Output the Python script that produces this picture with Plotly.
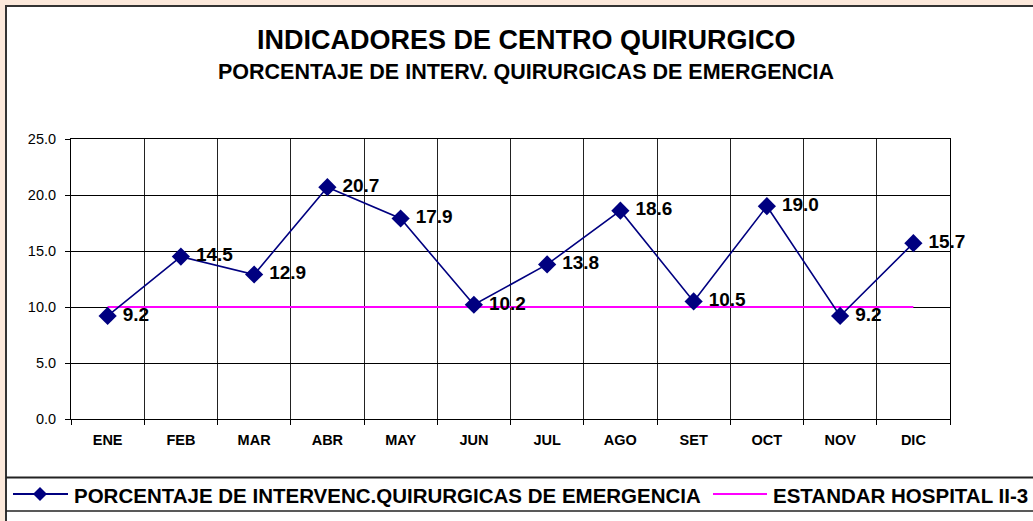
import plotly.graph_objects as go

months = ["ENE", "FEB", "MAR", "ABR", "MAY", "JUN", "JUL", "AGO", "SET", "OCT", "NOV", "DIC"]
porcentaje = [9.2, 14.5, 12.9, 20.7, 17.9, 10.2, 13.8, 18.6, 10.5, 19.0, 9.2, 15.7]
estandar = [10.0] * 12
y_ticks = [0, 5, 10, 15, 20, 25]

title = "INDICADORES DE CENTRO QUIRURGICO"
subtitle = "PORCENTAJE DE INTERV. QUIRURGICAS DE EMERGENCIA"
name1 = "PORCENTAJE DE INTERVENC.QUIRURGICAS DE EMERGENCIA"
name2 = "ESTANDAR HOSPITAL II-3"

W, H = 1033, 521
L, R, T, B = 71, 83, 139, 102
PW, PH = W - L - R, H - T - B
FONT = "Liberation Sans, Arial, sans-serif"
PEACH = "#FCE9DB"


def px(x):
    return (x - L) / PW


def py(y):
    return (H - B - y) / PH


fig = go.Figure()
fig.add_trace(go.Scatter(
    x=months, y=estandar, mode="lines", name=name2,
    line=dict(color="#FF00FF", width=2), hoverinfo="skip"))
fig.add_trace(go.Scatter(
    x=months, y=porcentaje, mode="lines+markers+text", name=name1,
    line=dict(color="#000080", width=1.6),
    marker=dict(symbol="diamond", size=14, color="#000080"),
    text=["\u00a0" + f"{v:.1f}" for v in porcentaje], textposition="middle right",
    textfont=dict(family=FONT, size=19, color="black", weight="bold"),
    cliponaxis=False))

shapes = [
    dict(type="rect", xref="paper", yref="paper", layer="below",
         x0=px(6), x1=px(W + 20), y0=py(H + 20), y1=py(6),
         fillcolor="white", line=dict(color="#333333", width=2)),
    dict(type="line", xref="paper", yref="paper",
         x0=px(6), x1=px(W + 5), y0=py(477.5), y1=py(477.5),
         line=dict(color="#222222", width=2)),
    dict(type="line", xref="paper", yref="paper",
         x0=px(6), x1=px(W + 5), y0=py(511), y1=py(511),
         line=dict(color="#222222", width=1.5)),
    dict(type="line", xref="paper", yref="paper",
         x0=px(13), x1=px(68), y0=py(494), y1=py(494),
         line=dict(color="#000080", width=2)),
    dict(type="path", xref="paper", yref="paper",
         path=f"M {px(40)} {py(487)} L {px(47)} {py(494)} L {px(40)} {py(501)} L {px(33)} {py(494)} Z",
         fillcolor="#000080", line=dict(color="#000080", width=0)),
    dict(type="line", xref="paper", yref="paper",
         x0=px(713), x1=px(767), y0=py(494), y1=py(494),
         line=dict(color="#FF00FF", width=2)),
]

annotations = [
    dict(text=title, xref="paper", yref="paper", x=px(526), y=py(40),
         xanchor="center", yanchor="middle", showarrow=False,
         font=dict(family=FONT, size=27, color="black", weight="bold")),
    dict(text=subtitle, xref="paper", yref="paper", x=px(526), y=py(72),
         xanchor="center", yanchor="middle", showarrow=False,
         font=dict(family=FONT, size=21.5, color="black", weight="bold")),
    dict(text=name1, xref="paper", yref="paper", x=px(72), y=py(495),
         xanchor="left", yanchor="middle", showarrow=False,
         font=dict(family=FONT, size=20.5, color="black", weight="bold")),
    dict(text=name2, xref="paper", yref="paper", x=px(771), y=py(495),
         xanchor="left", yanchor="middle", showarrow=False,
         font=dict(family=FONT, size=20.5, color="black", weight="bold")),
]

fig.update_layout(
    width=W, height=H,
    margin=dict(l=L, r=R, t=T, b=B, pad=0),
    paper_bgcolor=PEACH, plot_bgcolor="white",
    showlegend=False,
    shapes=shapes, annotations=annotations,
    font=dict(family=FONT, color="black"),
)
fig.update_xaxes(
    type="category", categoryorder="array", categoryarray=months,
    range=[-0.5, 11.5], tickson="boundaries",
    showgrid=True, gridcolor="#222222", gridwidth=1,
    showline=True, linecolor="black", linewidth=1, mirror=True,
    ticks="outside", ticklen=5, tickcolor="black", ticklabelstandoff=8,
    tickfont=dict(family=FONT, size=14.5, color="black", weight="bold"),
    fixedrange=True)
fig.update_yaxes(
    range=[0, 25], tickvals=y_ticks, tickformat=".1f",
    showgrid=True, gridcolor="black", gridwidth=1,
    showline=True, linecolor="black", linewidth=1, mirror=True,
    ticks="outside", ticklen=5, tickcolor="black", ticklabelstandoff=6,
    tickfont=dict(family=FONT, size=14.5, color="black"),
    zeroline=False, fixedrange=True)

fig.write_html(
    "out.html",
    config={"displayModeBar": False},
    post_script="document.body.style.margin='0';document.body.style.overflow='hidden';"
                "document.body.style.background='" + PEACH + "';",
)
